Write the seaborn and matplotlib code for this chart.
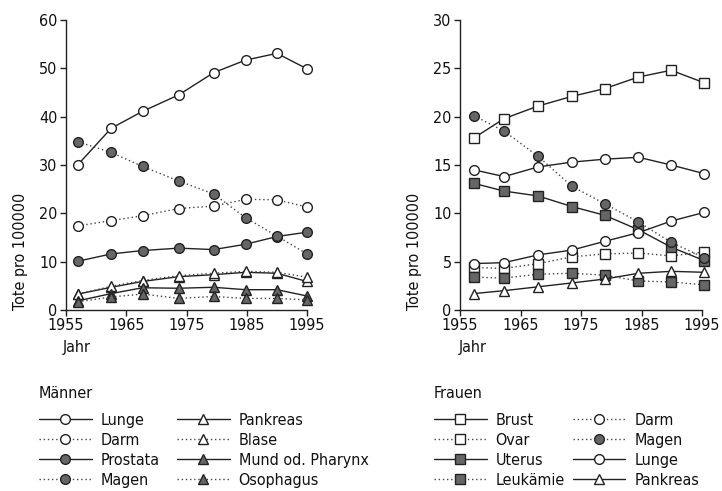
import matplotlib
matplotlib.use("Agg")
import matplotlib.pyplot as plt
from matplotlib.lines import Line2D
import seaborn as sns

sns.set_theme(style="ticks")
plt.rcParams['font.family'] = ['DejaVu Sans']
plt.rcParams['font.stretch'] = 'condensed'

# ---------------- data ----------------
years_m = [1957, 1962.5, 1967.7, 1973.7, 1979.5, 1984.8, 1990, 1995]
years_f = [1957.3, 1962.3, 1967.9, 1973.5, 1978.9, 1984.5, 1989.9, 1995.4]

m_lunge = [30.1, 37.6, 41.1, 44.5, 49.1, 51.7, 53.1, 49.9]
m_darm = [17.4, 18.5, 19.5, 21.0, 21.5, 22.9, 22.8, 21.3]
m_prostata = [10.1, 11.6, 12.3, 12.8, 12.5, 13.6, 15.2, 16.1]
m_magen = [34.8, 32.6, 29.7, 26.7, 24.0, 19.1, 15.3, 11.6]
m_pankreas = [3.3, 4.7, 5.9, 6.9, 7.3, 7.8, 7.6, 5.9]
m_blase = [3.3, 4.9, 6.1, 7.1, 7.6, 8.0, 7.8, 6.8]
m_mund = [1.9, 3.4, 4.6, 4.5, 4.7, 4.2, 4.2, 2.9]
m_oeso = [1.7, 2.7, 3.3, 2.4, 2.8, 2.4, 2.4, 2.1]

f_brust = [17.8, 19.8, 21.1, 22.1, 22.9, 24.1, 24.8, 23.5]
f_ovar = [4.4, 4.3, 4.8, 5.5, 5.8, 5.9, 5.6, 6.0]
f_uterus = [13.1, 12.3, 11.8, 10.7, 9.8, 8.3, 6.5, 5.1]
f_leuk = [3.4, 3.3, 3.7, 3.8, 3.6, 3.0, 2.9, 2.6]
f_darm = [14.5, 13.8, 14.8, 15.3, 15.6, 15.8, 15.0, 14.1]
f_magen = [20.1, 18.5, 15.9, 12.8, 11.0, 9.1, 7.0, 5.4]
f_lunge = [4.8, 4.9, 5.7, 6.2, 7.1, 8.0, 9.2, 10.1]
f_pankreas = [1.7, 2.0, 2.4, 2.8, 3.2, 3.8, 4.0, 3.9]

men_labels = ["Lunge", "Darm", "Prostata", "Magen",
              "Pankreas", "Blase", "Mund od. Pharynx", "Osophagus"]
women_labels = ["Brust", "Ovar", "Uterus", "Leukämie",
                "Darm", "Magen", "Lunge", "Pankreas"]
men_values = [m_lunge, m_darm, m_prostata, m_magen,
              m_pankreas, m_blase, m_mund, m_oeso]
women_values = [f_brust, f_ovar, f_uterus, f_leuk,
                f_darm, f_magen, f_lunge, f_pankreas]

# ---------------- styles ----------------
GREY = "#666666"
SOLID = dict(ls="-", color="#222222")
DOT = dict(ls=(0, (1, 2)), color="#444444")

def style(marker, fill, line):
    d = dict(marker=marker, markerfacecolor=fill, markeredgecolor="#222222",
             markeredgewidth=1.0, markersize=7, linewidth=1.0)
    d.update(line)
    return d

men_styles = [style("o", "white", SOLID), style("o", "white", DOT),
              style("o", GREY, SOLID), style("o", GREY, DOT),
              style("^", "white", SOLID), style("^", "white", DOT),
              style("^", GREY, SOLID), style("^", GREY, DOT)]
women_legend_styles = [style("s", "white", SOLID), style("s", "white", DOT),
                       style("s", GREY, SOLID), style("s", GREY, DOT),
                       style("o", "white", DOT), style("o", GREY, DOT),
                       style("o", "white", SOLID), style("^", "white", SOLID)]
# in the chart itself both circle series (Darm, Lunge) are drawn solid
women_plot_styles = list(women_legend_styles)
women_plot_styles[4] = style("o", "white", SOLID)

W, H = 722, 491
fig = plt.figure(figsize=(W / 100, H / 100), dpi=100)
FS = 11.5
TXT = "#111111"

def make_axes(x0, x1, ymax, yticks):
    ax = fig.add_axes([x0 / W, 1 - 310 / H, (x1 - x0) / W, 290 / H])
    ax.set_xlim(1955, 1995)
    ax.set_ylim(0, ymax)
    ax.set_xticks([1955, 1965, 1975, 1985, 1995])
    ax.set_yticks(yticks)
    sns.despine(ax=ax)
    for s in ("left", "bottom"):
        ax.spines[s].set_color("#222222")
        ax.spines[s].set_linewidth(1.0)
    ax.tick_params(axis="both", length=4, width=1.0, color="#222222",
                   labelsize=FS, pad=2, labelcolor=TXT)
    ax.set_facecolor("none")
    ax.set_ylabel("Tote pro 100000", loc="bottom", fontsize=FS,
                  color=TXT, labelpad=8)
    ax.set_xlabel("Jahr", loc="left", fontsize=FS, color=TXT, labelpad=5)
    return ax

ax1 = make_axes(66, 307, 60, [0, 10, 20, 30, 40, 50, 60])
ax2 = make_axes(460, 702, 30, [0, 5, 10, 15, 20, 25, 30])
ax1.xaxis.label.set_x(-0.012)
ax2.xaxis.label.set_x(-0.004)

for vals, st in zip(men_values, men_styles):
    sns.lineplot(x=years_m, y=vals, ax=ax1, legend=False, clip_on=False, **st)
for vals, st in zip(women_values, women_plot_styles):
    sns.lineplot(x=years_f, y=vals, ax=ax2, legend=False, clip_on=False, **st)

def add_legend(labels, styles, title, x, colsp):
    fig.text(x / W, 1 - 393 / H, title, fontsize=FS, color=TXT,
             ha="left", va="center")
    handles = [Line2D([], [], **st) for st in styles]
    leg = fig.legend(handles, labels, ncol=2,
                     loc="upper left", bbox_to_anchor=(x / W, 1 - 413 / H),
                     frameon=False, fontsize=FS,
                     handlelength=3.3, handletextpad=0.55, columnspacing=colsp,
                     labelspacing=0.31, borderpad=0, borderaxespad=0,
                     numpoints=1)
    for t in leg.get_texts():
        t.set_color(TXT)
    return leg

add_legend(men_labels, men_styles, "Männer", 39, 1.1)
add_legend(women_labels, women_legend_styles, "Frauen", 434, 0.5)

fig.savefig("out.png", dpi=100)
